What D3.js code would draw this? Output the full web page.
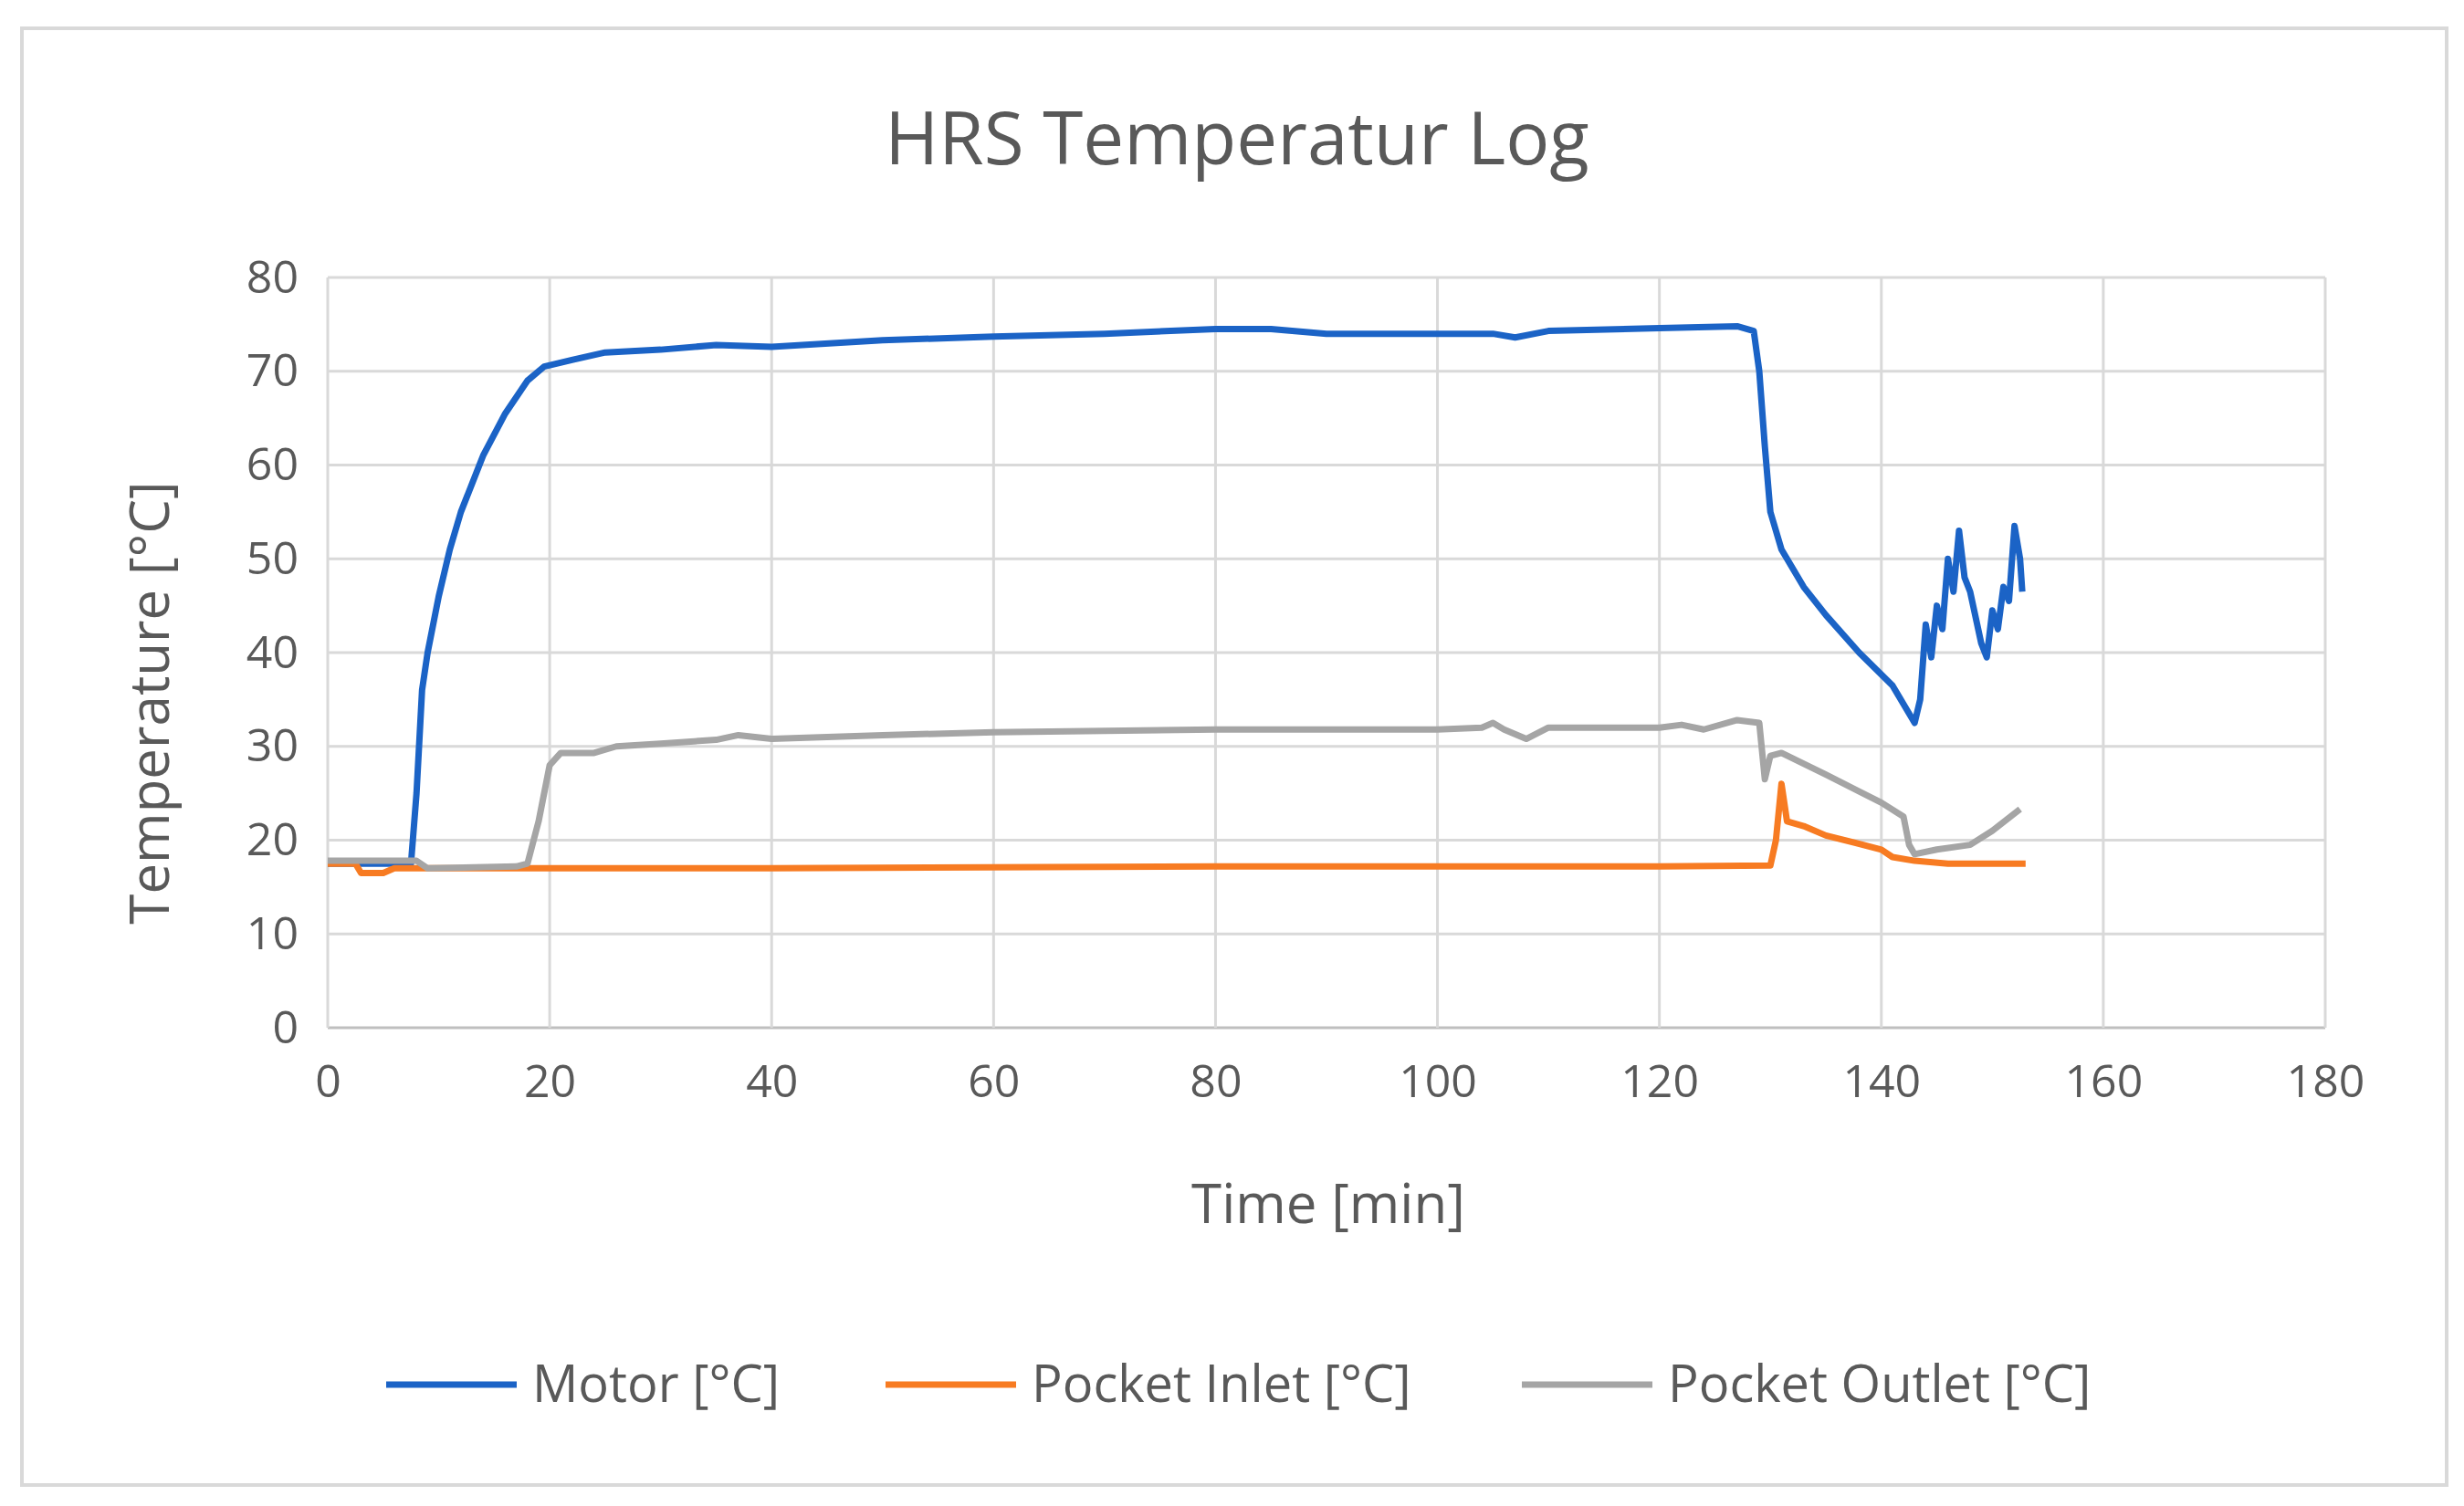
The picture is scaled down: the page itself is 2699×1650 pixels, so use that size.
<!DOCTYPE html>
<html><head><meta charset="utf-8">
<script src="https://cdn.jsdelivr.net/npm/d3@7"></script>
<style>body{margin:0;background:#fff;font-family:"Open Sans","Noto Sans",sans-serif;}</style>
</head><body>
<svg id="chart" width="2699" height="1650"></svg>
<script>
// series values: [time min, temperature °C]
const motor = [[0,17.5],[7.5,17.5],[8,25],[8.5,36],[9,40],[10,46],[11,51],[12,55],[14,61],[16,65.5],[18,69],[19.5,70.5],[22,71.2],[25,72],[30,72.3],[35,72.8],[40,72.6],[50,73.3],[60,73.7],[70,74],[80,74.5],[85,74.5],[90,74],[100,74],[105,74],[107,73.6],[110,74.3],[120,74.6],[127,74.8],[128.5,74.3],[129,70],[129.5,62],[130,55],[131,51],[133,47],[135,44],[138,40],[141,36.5],[142,34.5],[143,32.5],[143.5,35],[144,43],[144.5,39.5],[145,45],[145.5,42.5],[146,50],[146.5,46.5],[147,53],[147.5,48],[148,46.5],[149,41],[149.5,39.5],[150,44.5],[150.5,42.5],[151,47],[151.5,45.5],[152,53.5],[152.5,50],[152.7,46.5]];
const inlet = [[0,17.5],[2.5,17.5],[3,16.5],[5,16.5],[6,17],[20,17],[40,17],[80,17.2],[120,17.2],[130,17.3],[130.5,20],[131,26],[131.5,22],[133,21.5],[135,20.5],[140,19],[141,18.2],[143,17.8],[146,17.5],[153,17.5]];
const outlet = [[0,17.8],[8,17.8],[9,17],[17,17.2],[18,17.5],[19,22],[20,28],[21,29.3],[24,29.3],[26,30],[30,30.3],[35,30.7],[37,31.2],[40,30.8],[50,31.2],[60,31.5],[80,31.8],[100,31.8],[104,32],[105,32.5],[106,31.8],[108,30.8],[110,32],[120,32],[122,32.3],[124,31.8],[127,32.8],[129,32.5],[129.5,26.5],[130,29],[131,29.3],[135,27],[140,24],[142,22.5],[142.5,19.5],[143,18.5],[145,19],[148,19.5],[150,21],[152.5,23.3]];
const seriesNames = ["Motor [°C]","Pocket Inlet [°C]","Pocket Outlet [°C]"];
const seriesColors = ["#1b63c6","#f77b22","#a5a5a5"];
const xTicks = d3.range(0,181,20);
const yTicks = d3.range(0,81,10);

const svg = d3.select("#chart");
const L=359,R=2547,T=304,B=1126;
svg.append("rect").attr("x",24).attr("y",31).attr("width",2656).attr("height",1596)
  .attr("fill","#fff").attr("stroke","#d9d9d9").attr("stroke-width",4);

const x = d3.scaleLinear().domain([0,180]).range([L,R]);
const y = d3.scaleLinear().domain([0,80]).range([B,T]);

// grid
svg.append("g").selectAll("line").data(yTicks).join("line")
  .attr("x1",L).attr("x2",R).attr("y1",d=>y(d)).attr("y2",d=>y(d))
  .attr("stroke",d=>d===0?"#bfbfbf":"#d9d9d9").attr("stroke-width",3);
svg.append("g").selectAll("line").data(xTicks).join("line")
  .attr("x1",d=>x(d)).attr("x2",d=>x(d)).attr("y1",T).attr("y2",B)
  .attr("stroke","#d9d9d9").attr("stroke-width",3);

// axes
const xa = svg.append("g").attr("transform",`translate(0,${B})`)
  .call(d3.axisBottom(x).tickValues(xTicks).tickSize(0).tickPadding(40));
const ya = svg.append("g").attr("transform",`translate(${L},0)`)
  .call(d3.axisLeft(y).tickValues(yTicks).tickSize(0).tickPadding(32));
[xa,ya].forEach(a=>{a.select(".domain").remove();
  a.selectAll("text").attr("font-size",50).attr("fill","#595959").attr("font-family","Open Sans");});

// lines
const line = d3.line().x(d=>x(d[0])).y(d=>y(d[1]));
[motor,inlet,outlet].forEach((s,i)=>{
  svg.append("path").datum(s).attr("d",line).attr("fill","none")
    .attr("stroke",seriesColors[i]).attr("stroke-width",7).attr("stroke-linejoin","round");
});

// titles
svg.append("text").attr("x",1355).attr("y",180).attr("text-anchor","middle")
  .attr("font-size",80).attr("fill","#595959").text("HRS Temperatur  Log");
svg.append("text").attr("x",1455).attr("y",1340).attr("text-anchor","middle")
  .attr("font-size",60).attr("fill","#595959").text("Time [min]");
svg.append("text").attr("transform",`translate(185,${(T+B)/2+55}) rotate(-90)`).attr("text-anchor","middle")
  .attr("font-size",60).attr("fill","#595959").text("Temperature [°C]");

// legend
const legX=[423,970,1667];
const lg = svg.append("g").selectAll("g").data(seriesNames).join("g")
  .attr("transform",(d,i)=>`translate(${legX[i]},1517)`);
lg.append("line").attr("x1",0).attr("x2",143).attr("stroke",(d,i)=>seriesColors[i]).attr("stroke-width",7);
lg.append("text").attr("x",160).attr("y",19).attr("font-size",56).attr("fill","#595959").text(d=>d);
</script>
</body></html>
